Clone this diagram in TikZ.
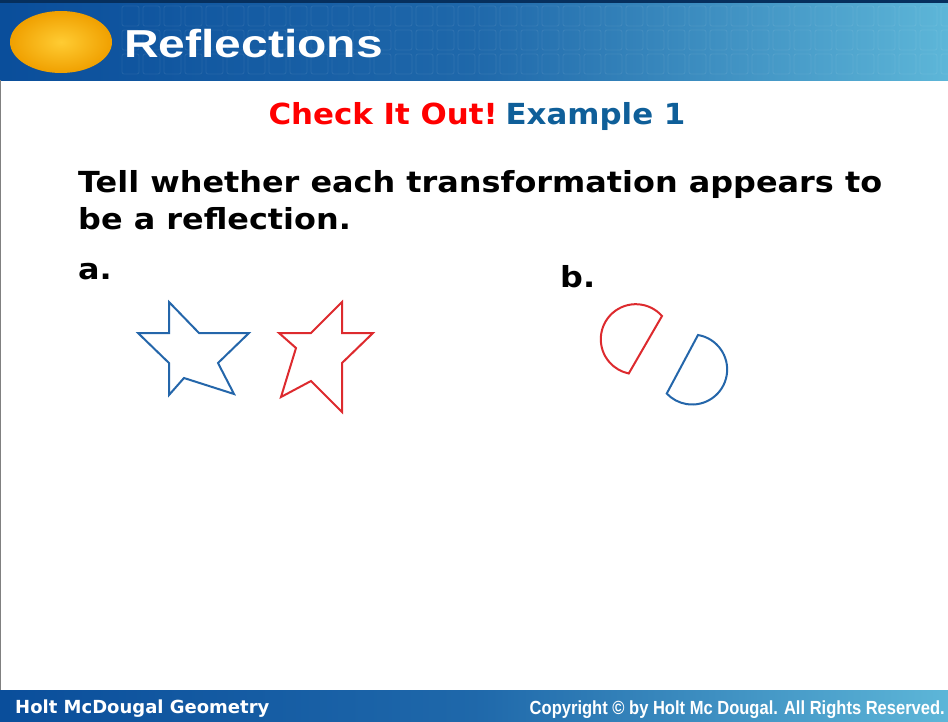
\documentclass[tikz,border=0pt]{standalone}
\usepackage{graphicx}
\usepackage{fontspec}
\setmainfont{DejaVu Sans}
\newfontfamily\titlefont{Liberation Sans}
\newfontfamily\verd{DejaVu Sans}
\usetikzlibrary{shadings}
\definecolor{hdark}{HTML}{0A4E9B}
\definecolor{hlight}{HTML}{5DB6D8}
\definecolor{starblue}{HTML}{2466AA}
\definecolor{starred}{HTML}{DD2A2E}
\definecolor{exblue}{HTML}{0F5F99}
\definecolor{chkred}{HTML}{FF0000}
\definecolor{ambin}{HTML}{FFCC33}
\definecolor{ambout}{HTML}{F0A000}
\tikzset{
  shapeline/.style={line width=2pt, line join=miter},
  bodytext/.style={font=\verd\bfseries\fontsize{29}{34}\selectfont, anchor=base west, inner sep=0pt},
}
\begin{document}
\begin{tikzpicture}[x=1pt,y=1pt]
\useasboundingbox (0,0) rectangle (948,-721);
\fill[white] (0,0) rectangle (948,-721);
% header band
\shade[left color=hdark, right color=hlight, middle color=hdark!75!hlight] (0,-3) rectangle (948,-80);
\fill[hdark!60!black] (0,0) rectangle (948,-3);
\foreach \r in {0,1,2}{
  \foreach \c in {0,...,39}{
    \draw[white, opacity=0.08, line width=0.8pt, rounded corners=2pt] ({120+\c*21+2},{-6-\r*24}) rectangle ++(17,-20);
  }
}
% footer band
\shade[left color=hdark, right color=hlight, middle color=hdark!75!hlight] (0,-690) rectangle (948,-721);
% left border line
\draw[gray, line width=1pt] (0.5,-80) -- (0.5,-690);
% orange ellipse
\shade[inner color=ambin, outer color=ambout] (61,-42) ellipse (51pt and 31pt);
% title
\node[anchor=base west, inner sep=0pt, text=white, font=\titlefont\bfseries\fontsize{39}{39}\selectfont] (title) at (124,-57) {\scalebox{1.23}[1]{Reflections}};
% check it out
\node[anchor=base, inner sep=0pt, font=\verd\bfseries\fontsize{29}{30}\selectfont] (chk) at (477,-124) {\scalebox{1.065}[1]{\textcolor{chkred}{Check It Out!}\hspace{0.25em}\textcolor{exblue}{Example 1}}};
% body
\node[bodytext] (l1) at (78,-192) {\scalebox{1.1}[1]{Tell whether each transformation appears to}};
\node[bodytext] (l2) at (78,-229) {\scalebox{1.1}[1]{be a reflection.}};
\node[bodytext] (a) at (78,-279) {\scalebox{1.1}[1]{a.}};
\node[bodytext] (b) at (560,-287) {\scalebox{1.1}[1]{b.}};
% blue star
\draw[shapeline, starblue] (169,-302) -- (199,-333) -- (249,-333) -- (218,-363) -- (234,-394) -- (184,-378) -- (169,-395) -- (169,-363) -- (138,-333) -- (169,-333) -- cycle;
% red star
\draw[shapeline, starred] (342,-302) -- (342,-333) -- (373,-333) -- (342,-363) -- (342,-412) -- (311,-381) -- (281,-397) -- (296,-348) -- (279,-333) -- (311,-333) -- cycle;
% red segment (bulge upper-left)
\draw[shapeline, starred] (662,-316) arc[start angle=41.5, end angle=258.4, radius=35] -- cycle;
% blue segment (bulge lower-right)
\draw[shapeline, starblue] (698,-335) arc[start angle=80.4, end angle=-136.6, radius=35] -- cycle;
% footer text
\node[anchor=base west, inner sep=0pt, text=white, font=\verd\bfseries\fontsize{18}{18}\selectfont] (f1) at (15,-713) {Holt McDougal Geometry};
\node[anchor=base east, inner sep=0pt, text=white, font=\titlefont\bfseries\fontsize{19}{19}\selectfont] (f2) at (945,-714) {\scalebox{0.87}[1]{Copyright \textcopyright{} by Holt Mc Dougal. All Rights Reserved.}};
\end{tikzpicture}
\end{document}
